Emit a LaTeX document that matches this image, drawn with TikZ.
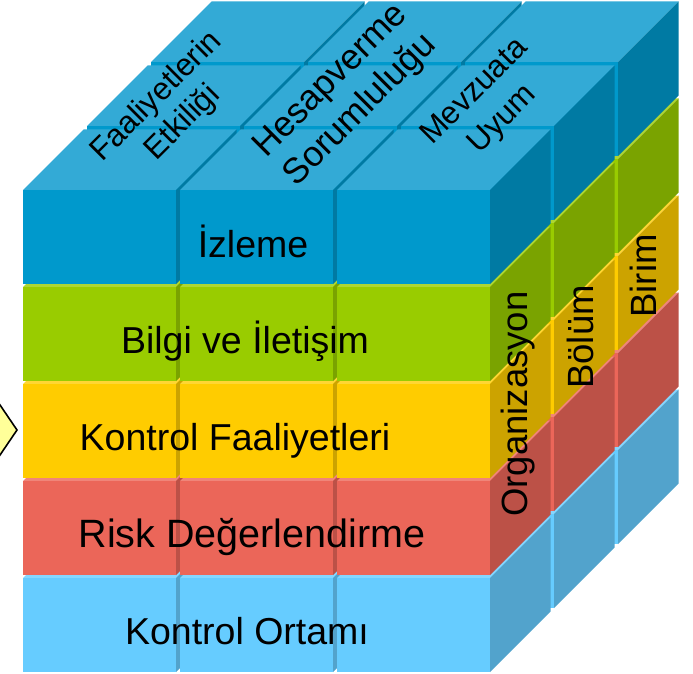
\documentclass[tikz,border=0pt]{standalone}
\usepackage{fontspec}
\setmainfont{Liberation Sans}

% layer colours: front face, top face, right face
\definecolor{iz-front}{HTML}{0099CC}\definecolor{iz-top}{HTML}{33AAD6}\definecolor{iz-right}{HTML}{007AA3}
\definecolor{bg-front}{HTML}{99CC00}\definecolor{bg-top}{HTML}{ADD633}\definecolor{bg-right}{HTML}{7AA300}
\definecolor{kf-front}{HTML}{FFCC00}\definecolor{kf-top}{HTML}{FFD633}\definecolor{kf-right}{HTML}{CCA300}
\definecolor{rd-front}{HTML}{EB6659}\definecolor{rd-top}{HTML}{F08579}\definecolor{rd-right}{HTML}{BC5147}
\definecolor{ko-front}{HTML}{66CCFF}\definecolor{ko-top}{HTML}{85D6FF}\definecolor{ko-right}{HTML}{52A3CC}
\definecolor{pointer}{HTML}{FFFF99}

\tikzset{
  frontlabel/.style={anchor=base, inner sep=0pt, text=black, font=\fontsize{37.5}{42}\selectfont},
  toplabel/.style={inner sep=0pt, align=center, text=black, rotate=45},
  sidelabel/.style={inner sep=0pt, text=black, rotate=90, font=\fontsize{36.5}{40}\selectfont},
}

\begin{document}
\begin{tikzpicture}[x=1pt,y=-1pt]
\useasboundingbox (0,0) rectangle (693,674);
\clip (0,0) rectangle (693,674);

% pointer on the left edge
\coordinate (ptop) at (-40,346);
\coordinate (ptip) at (17,430);
\coordinate (pbot) at (-40,514);
\filldraw[fill=pointer, draw=black, line width=1.6pt, line join=miter] (ptop) -- (ptip) -- (pbot) -- cycle;

% 3 x 5 x 3 blocks, painted back to front, bottom to top, left to right
\foreach \k in {2,1,0} {
  \foreach \r/\lay in {4/ko,3/rd,2/kf,1/bg,0/iz} {
    \foreach \c in {0,1,2} {
      \pgfmathsetmacro\X{23+157*\c+64*\k}
      \pgfmathsetmacro\Y{190+97*\r-64*\k}
      \fill[fill=\lay-top] (\X,\Y) -- ++(153,0) -- ++(60.5,-60.5) -- ++(-153,0) -- cycle;
      \fill[fill=\lay-right] (\X+153,\Y) -- ++(60.5,-60.5) -- ++(0,94) -- ++(-60.5,60.5) -- cycle;
      \fill[fill=\lay-front] (\X,\Y) rectangle ++(153,94);
    }
  }
}

% components on the front face
\node[frontlabel] (izleme)  at (253,257) {İzleme};
\node[frontlabel] (bilgi)   at (245,353) {Bilgi ve İletişim};
\node[frontlabel] (kontrol) at (235,450) {Kontrol Faaliyetleri};
\node[frontlabel, font=\fontsize{39.5}{44}\selectfont] (risk) at (252,547) {Risk Değerlendirme};
\node[frontlabel] (ortam)   at (247,644) {Kontrol Ortamı};

% objectives on the top face
\node[toplabel, font=\fontsize{31.5}{37}\selectfont] (etkililik) at (170,110) {Faaliyetlerin\\Etkiliği};
\node[toplabel, font=\fontsize{35.5}{42}\selectfont] (hesap) at (346,96) {Hesapverme\\Sorumluluğu};
\node[toplabel, font=\fontsize{31.5}{39}\selectfont] (mevzuat) at (489,106) {Mevzuata\\Uyum};

% levels on the right face
\node[sidelabel] (org)   at (518,404) {Organizasyon};
\node[sidelabel] (bolum) at (580,337) {Bölüm};
\node[sidelabel] (birim) at (643,276) {Birim};
\end{tikzpicture}
\end{document}
